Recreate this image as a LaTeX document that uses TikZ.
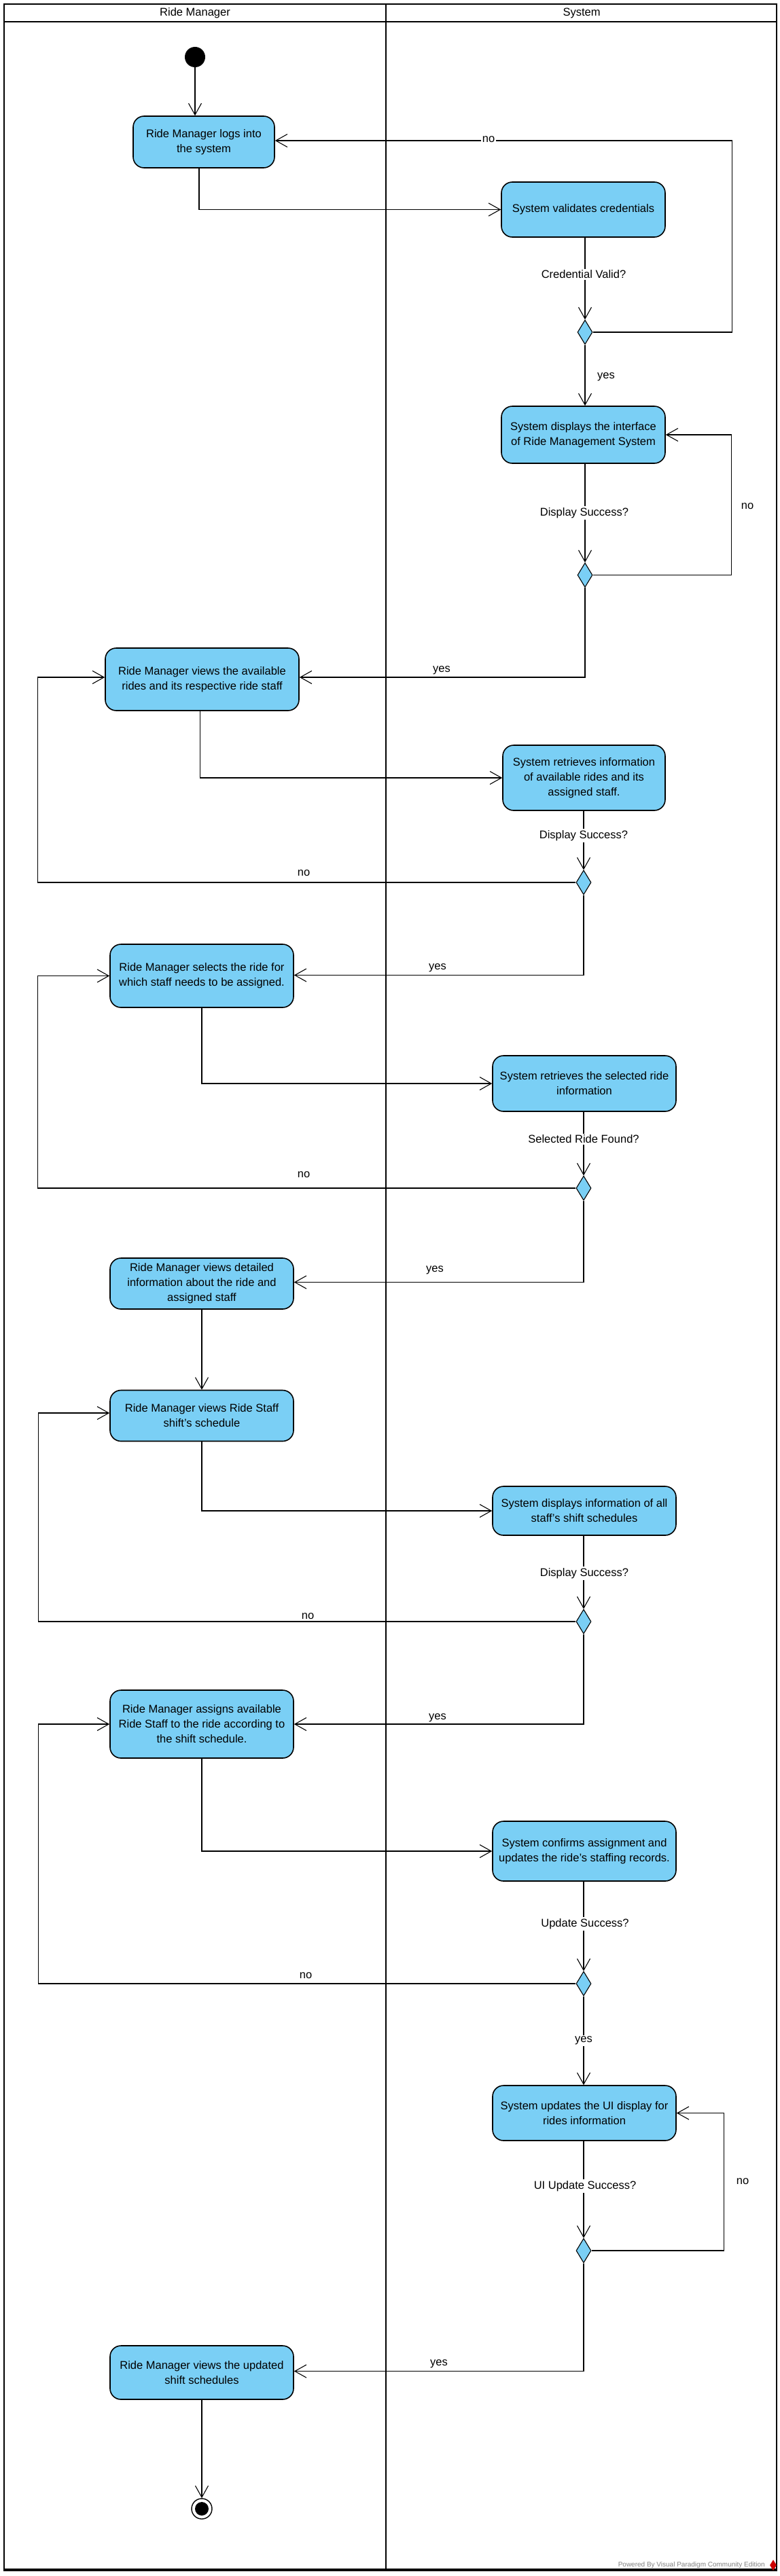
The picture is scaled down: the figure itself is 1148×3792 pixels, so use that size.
\documentclass[tikz,border=0pt]{standalone}
\usepackage{fontspec}
\setmainfont{Liberation Sans}
\usetikzlibrary{arrows.meta,shapes.geometric}
\definecolor{vpblue}{RGB}{122,207,245}
\begin{document}
\begin{tikzpicture}[x=1pt,y=-1pt,
  act/.style={draw, line width=1.6pt, fill=vpblue, rounded corners=16pt, align=center,
    font=\fontsize{16.5}{22}\selectfont, inner sep=0pt},
  dec/.style={diamond, draw, line width=1.1pt, fill=vpblue, minimum width=22pt,
    minimum height=36pt, inner sep=0pt},
  flow/.style={line width=1.1pt, -{Straight Barb[length=17pt,width=19pt]}},
  lbl/.style={font=\fontsize{16.5}{20}\selectfont, inner sep=2pt},
  gap/.style={lbl, fill=white},
  lane/.style={line width=2.5pt}
]
\useasboundingbox (0,0) rectangle (1148,3792);
\fill[white] (0,0) rectangle (1148,3792);

% swimlane frame
\draw[lane] (6,6) rectangle (1143,3783);
\draw[line width=4pt] (5,3783) -- (1144,3783);
\draw[lane] (6,32) -- (1143,32);
\draw[line width=2pt] (568,6) -- (568,3783);
\node[lbl] (h1) at (287,19) {Ride Manager};
\node[lbl] (h2) at (856,19) {System};

% nodes
\node[circle, fill=black, minimum size=30pt, inner sep=0pt] (start) at (287,84) {};
\node[act, minimum width=208pt, minimum height=76pt] (a1) at (300,209) {Ride Manager logs into\\the system};
\node[act, minimum width=241pt, minimum height=81pt] (a2) at (858.5,308.5) {System validates credentials};
\node[dec] (d1) at (861,489) {};
\node[act, minimum width=241pt, minimum height=84pt] (a3) at (858.5,640) {System displays the interface\\of Ride Management System};
\node[dec] (d2) at (861,846.5) {};
\node[act, minimum width=285pt, minimum height=92pt] (a4) at (297.5,1000) {Ride Manager views the available\\rides and its respective ride staff};
\node[act, minimum width=239pt, minimum height=96pt] (a5) at (859.5,1145) {System retrieves information\\of available rides and its\\assigned staff.};
\node[dec] (d3) at (859,1299) {};
\node[act, minimum width=270pt, minimum height=93pt] (a6) at (297,1436.5) {Ride Manager selects the ride for\\which staff needs to be assigned.};
\node[act, minimum width=270pt, minimum height=82pt] (a7) at (860,1595) {System retrieves the selected ride\\information};
\node[dec] (d4) at (859,1749) {};
\node[act, minimum width=270pt, minimum height=75pt] (a8) at (297,1889.5) {Ride Manager views detailed\\information about the ride and\\assigned staff};
\node[act, minimum width=270pt, minimum height=75pt] (a9) at (297,2084) {Ride Manager views Ride Staff\\shift's schedule};
\node[act, minimum width=270pt, minimum height=72pt] (a10) at (860,2224) {System displays information of all\\staff's shift schedules};
\node[dec] (d5) at (859,2387) {};
\node[act, minimum width=270pt, minimum height=100pt] (a11) at (297,2538) {Ride Manager assigns available\\Ride Staff to the ride according to\\the shift schedule.};
\node[act, minimum width=270pt, minimum height=88pt] (a12) at (860,2725) {System confirms assignment and\\updates the ride’s staffing records.};
\node[dec] (d6) at (859,2920) {};
\node[act, minimum width=270pt, minimum height=81pt] (a13) at (860,3110.5) {System updates the UI display for\\rides information};
\node[dec] (d7) at (859,3313) {};
\node[act, minimum width=270pt, minimum height=79pt] (a14) at (297,3492.5) {Ride Manager views the updated\\shift schedules};
\node[circle, draw, line width=1.4pt, fill=white, minimum size=30pt, inner sep=0pt] (final) at (297,3693) {};
\fill (final.center) circle[radius=10pt];

% connectors
\draw[flow] (start) -- (start |- a1.north);
\draw[flow] ([xshift=-7pt]a1.south) |- (a2.west);
\draw[flow] (d1 |- a2.south) -- (d1.north);
\draw[flow] (d1.east) -- ++(205,0) |- ([yshift=2pt]a1.east);
\draw[flow] (d1.south) -- (d1 |- a3.north);
\draw[flow] (d2 |- a3.south) -- (d2.north);
\draw[flow] (d2.east) -- ++(204,0) |- (a3.east);
\draw[flow] (d2.south) |- ([yshift=3pt]a4.east);
\draw[flow] ([xshift=-3pt]a4.south) |- (a5.west);
\draw[flow] (d3 |- a5.south) -- (d3.north);
\draw[flow] (d3.west) -- ++(-792,0) |- ([yshift=3pt]a4.west);
\draw[flow] (d3.south) |- ([yshift=1pt]a6.east);
\draw[flow] (a6.south) |- (a7.west);
\draw[flow] (d4 |- a7.south) -- (d4.north);
\draw[flow] (d4.west) -- ++(-792,0) |- (a6.west);
\draw[flow] (d4.south) |- ([yshift=2pt]a8.east);
\draw[flow] (a8.south) -- (a8.south |- a9.north);
\draw[flow] (a9.south) |- (a10.west);
\draw[flow] (d5 |- a10.south) -- (d5.north);
\draw[flow] (d5.west) -- ++(-791,0) |- ([yshift=4pt]a9.west);
\draw[flow] (d5.south) |- (a11.east);
\draw[flow] (a11.south) |- (a12.west);
\draw[flow] (d6 |- a12.south) -- (d6.north);
\draw[flow] (d6.west) -- ++(-791,0) |- (a11.west);
\draw[flow] (d6.south) -- (d6 |- a13.north);
\draw[flow] (d7 |- a13.south) -- (d7.north);
\draw[flow] (d7.east) -- ++(195,0) |- (a13.east);
\draw[flow] (d7.south) |- ([yshift=2pt]a14.east);
\draw[flow] (a14.south) -- (final.north);

% labels
\node[gap] (l1) at (719,205) {no};
\node[gap] (l2) at (859,404) {Credential Valid?};
\node[lbl] (l3) at (892,555) {yes};
\node[gap] (l4) at (860,755) {Display Success?};
\node[lbl] (l5) at (1100,745) {no};
\node[lbl] (l6) at (650,987) {yes};
\node[gap] (l7) at (859,1230) {Display Success?};
\node[lbl] (l8) at (447,1285) {no};
\node[lbl] (l9) at (644,1425) {yes};
\node[gap] (l10) at (859,1677) {Selected Ride Found?};
\node[lbl] (l11) at (447,1729) {no};
\node[lbl] (l12) at (640,1870) {yes};
\node[gap] (l13) at (860,2316) {Display Success?};
\node[gap] (l14) at (453,2379) {no};
\node[gap] (l15) at (644,2529) {yes};
\node[gap] (l16) at (861,2832) {Update Success?};
\node[lbl] (l17) at (450,2908) {no};
\node[gap] (l18) at (859,3004) {yes};
\node[gap] (l19) at (861,3218) {UI Update Success?};
\node[lbl] (l20) at (1093,3211) {no};
\node[lbl] (l21) at (646,3480) {yes};

% watermark
\node[anchor=east, text=gray, font=\fontsize{10}{12}\selectfont, inner sep=0pt] (wm) at (1126,3776) {Powered By Visual Paradigm Community Edition};
\node[diamond, fill=red!80!black, minimum width=10pt, minimum height=16pt, inner sep=0pt] (logo) at (1138,3776) {};
\end{tikzpicture}
\end{document}
